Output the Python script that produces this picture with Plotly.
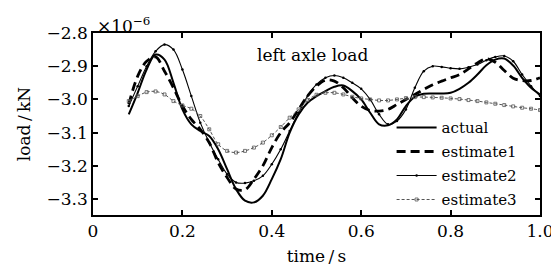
import plotly.graph_objects as go

time_s = [0.08, 0.10, 0.12, 0.14, 0.16, 0.18, 0.20, 0.22, 0.24, 0.26, 0.28, 0.30,
          0.32, 0.34, 0.36, 0.38, 0.40, 0.42, 0.44, 0.46, 0.48, 0.50, 0.52, 0.54,
          0.56, 0.58, 0.60, 0.62, 0.64, 0.66, 0.68, 0.70, 0.72, 0.74, 0.76, 0.78,
          0.80, 0.82, 0.84, 0.86, 0.88, 0.90, 0.92, 0.94, 0.96, 0.98, 1.00]

actual = [-3.045, -2.980, -2.910, -2.865, -2.880, -2.950, -3.030, -3.075, -3.095, -3.110, -3.150, -3.210,
          -3.270, -3.305, -3.310, -3.290, -3.240, -3.180, -3.100, -3.045, -3.010, -2.990, -2.975, -2.962,
          -2.958, -2.975, -3.000, -3.040, -3.075, -3.078, -3.060, -3.020, -2.992, -2.983, -2.982, -2.982,
          -2.980, -2.968, -2.950, -2.925, -2.897, -2.880, -2.877, -2.898, -2.935, -2.965, -2.985]

estimate1 = [-3.015, -2.930, -2.885, -2.872, -2.915, -2.965, -3.020, -3.060, -3.090, -3.130, -3.190, -3.235,
             -3.270, -3.272, -3.240, -3.200, -3.145, -3.100, -3.070, -3.030, -2.990, -2.960, -2.942, -2.945,
             -2.965, -2.995, -3.020, -3.033, -3.035, -3.030, -3.015, -3.000, -2.985, -2.970, -2.956, -2.945,
             -2.935, -2.925, -2.908, -2.890, -2.878, -2.888, -2.913, -2.936, -2.943, -2.943, -2.935]

estimate2 = [-3.020, -2.960, -2.900, -2.855, -2.835, -2.850, -2.910, -2.990, -3.070, -3.130, -3.180, -3.225,
             -3.250, -3.252, -3.245, -3.230, -3.195, -3.150, -3.095, -3.040, -2.990, -2.955, -2.935, -2.928,
             -2.935, -2.950, -2.968, -3.000, -3.045, -3.075, -3.065, -3.030, -2.965, -2.915, -2.900, -2.902,
             -2.906, -2.908, -2.903, -2.895, -2.882, -2.872, -2.869, -2.885, -2.925, -2.960, -2.990]

estimate3 = [-3.005, -2.990, -2.978, -2.976, -2.985, -3.005, -3.018, -3.028, -3.050, -3.090, -3.135, -3.155,
             -3.160, -3.155, -3.145, -3.130, -3.108, -3.083, -3.055, -3.030, -3.002, -2.986, -2.980, -2.980,
             -2.985, -2.992, -2.997, -3.000, -3.003, -3.003, -3.000, -2.996, -2.993, -2.993, -2.994, -2.995,
             -2.997, -2.999, -3.002, -3.005, -3.009, -3.013, -3.017, -3.021, -3.025, -3.028, -3.032]

x_tickvals = [0, 0.2, 0.4, 0.6, 0.8, 1.0]
x_ticktext = ["0", "0.2", "0.4", "0.6", "0.8", "1.0"]
y_tickvals = [-3.3, -3.2, -3.1, -3.0, -2.9, -2.8]
y_ticktext = ["\u22123.3", "\u22123.2", "\u22123.1", "\u22123.0", "\u22122.9", "\u22122.8"]

FONT = "DejaVu Serif"

fig = go.Figure()
fig.add_trace(go.Scatter(x=time_s, y=actual, name="actual", mode="lines", legendgroup="g1",
                         line=dict(color="black", width=2, shape="spline")))
fig.add_trace(go.Scatter(x=time_s, y=estimate1, name="estimate1", mode="lines", legendgroup="g2",
                         line=dict(color="black", width=2.8, dash="9px,5px", shape="spline")))
fig.add_trace(go.Scatter(x=time_s, y=estimate2, name="estimate2", mode="lines+markers", legendgroup="g3",
                         line=dict(color="black", width=1.1, shape="spline"),
                         marker=dict(symbol="circle", size=2.5, color="black")))
fig.add_trace(go.Scatter(x=time_s, y=estimate3, name="estimate3", mode="lines+markers", legendgroup="g4",
                         line=dict(color="#555555", width=1, dash="3px,2px", shape="spline"),
                         marker=dict(symbol="square-open", size=3, color="#555555", line=dict(width=0.8))))

axis_common = dict(showline=True, linecolor="black", linewidth=1.6, mirror="ticks",
                   ticks="inside", ticklen=5, tickwidth=1.5, tickcolor="black",
                   showgrid=False, zeroline=False, automargin=False,
                   tickfont=dict(family=FONT, size=17, color="black"))

fig.update_xaxes(range=[0, 1.0], tickvals=x_tickvals, ticktext=x_ticktext,
                 title=dict(text="time\u2009/\u2009s", font=dict(family=FONT, size=17, color="black"), standoff=10),
                 **axis_common)
fig.update_yaxes(range=[-3.348, -2.8], tickvals=y_tickvals, ticktext=y_ticktext,
                 title=dict(text="load\u2009/\u2009kN", font=dict(family=FONT, size=17, color="black"), standoff=12),
                 **axis_common)

fig.add_annotation(x=0.492, y=-2.866, xref="x", yref="y", text="left axle load", showarrow=False,
                   font=dict(family=FONT, size=17, color="black"))
fig.add_annotation(x=0.005, y=1.0, xref="paper", yref="paper", xanchor="left", yanchor="bottom",
                   text="\u00d710<sup>\u22126</sup>", showarrow=False, yshift=-5,
                   font=dict(family=FONT, size=17, color="black"))

# the page body adds an 8px offset, so the figure is drawn 8px smaller with margins trimmed accordingly
fig.update_layout(
    width=551, height=263,
    margin=dict(l=85, r=19, t=25, b=56, autoexpand=False),
    paper_bgcolor="white", plot_bgcolor="white",
    showlegend=True,
    legend=dict(x=0.668, y=0.57, xanchor="left", yanchor="top", bgcolor="rgba(0,0,0,0)",
                font=dict(family=FONT, size=15, color="black"), tracegroupgap=1.5,
                traceorder="grouped", itemwidth=40),
    font=dict(family=FONT, color="black"),
)

fig.write_html("out.html")
